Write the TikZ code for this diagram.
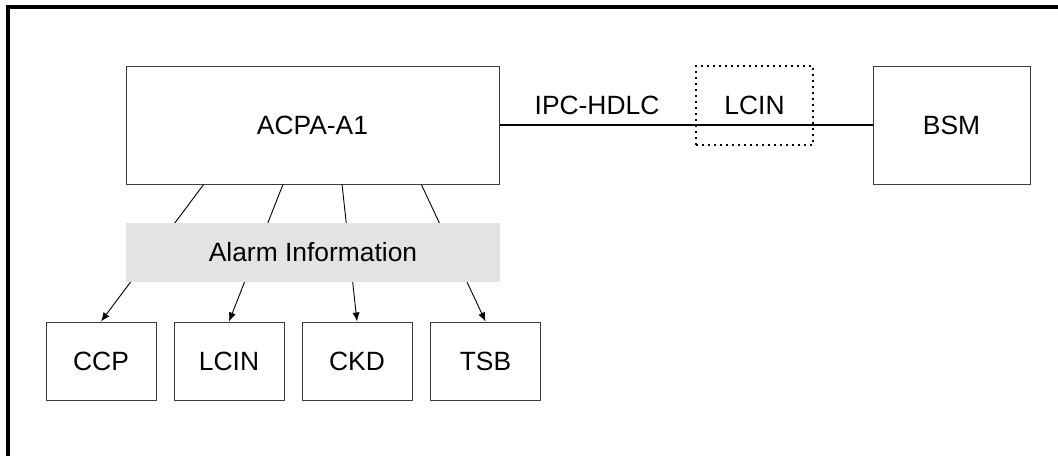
\documentclass[tikz,border=0pt]{standalone}
\usepackage{fontspec}
\setmainfont{Liberation Sans}
\usetikzlibrary{calc}
\usetikzlibrary{arrows.meta}
\definecolor{band-gray}{RGB}{227, 227, 227}
\definecolor{box-line}{RGB}{60, 60, 60}

\begin{document}
\begin{tikzpicture}[x=0.5pt, y=-0.5pt,
        every node/.style={font=\fontsize{13.2}{15}\selectfont},
        unit/.style={draw=box-line, line width=0.5pt, inner sep=0pt},
        smallunit/.style={unit, minimum width=55pt, minimum height=39pt},
        feed/.style={line width=0.45pt, -{Latex[length=4.5pt, width=3.6pt]}}]
            \useasboundingbox (0, 0) rectangle (1058, 456);
            \draw[line width=2pt] (8, 456) -- (8, 7) -- (1058, 7);
            \node[unit, minimum width=186.5pt, minimum height=59pt] (acpa) at (312.5, 125) {ACPA-A1};
            \node[unit, minimum width=78.5pt, minimum height=59pt] (bsm) at (951.5, 125) {BSM};
            \node[draw, dotted, line width=1pt, minimum width=58.5pt, minimum height=39.5pt, inner sep=0pt] (lcinlink) at (754.5, 105.5) {LCIN};
            \node (ipc) at (597, 105) {IPC-HDLC};
            \draw[line width=0.8pt] (acpa.east) -- (bsm.west);
            \node[smallunit] (ccp) at (101, 361) {CCP};
            \node[smallunit] (lcin) at (229, 361) {LCIN};
            \node[smallunit] (ckd) at (357, 361) {CKD};
            \node[smallunit] (tsb) at (485.5, 361) {TSB};
            \draw[feed] ($(acpa.south west)!0.209!(acpa.south east)$) -- (ccp.north);
            \draw[feed] ($(acpa.south west)!0.421!(acpa.south east)$) -- (lcin.north);
            \draw[feed] ($(acpa.south west)!0.579!(acpa.south east)$) -- (ckd.north);
            \draw[feed] ($(acpa.south west)!0.791!(acpa.south east)$) -- (tsb.north);
            \node[fill=band-gray, minimum width=187pt, minimum height=29.5pt, inner sep=0pt] (alarm) at (313, 252.5) {Alarm Information};
        \end{tikzpicture}
\end{document}
